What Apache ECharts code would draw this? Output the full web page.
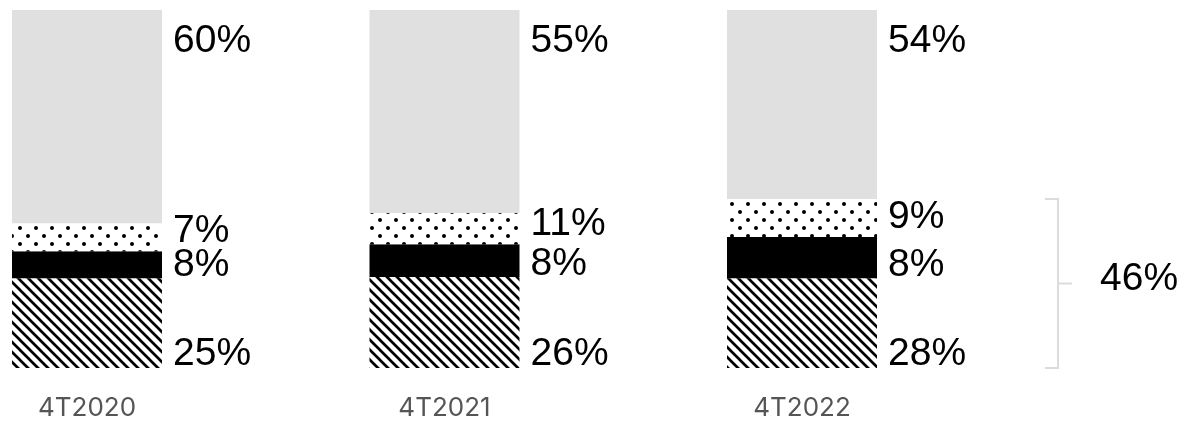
<!DOCTYPE html>
<html>
<head>
<meta charset="utf-8">
<script src="https://cdn.jsdelivr.net/npm/echarts@6/dist/echarts.min.js"></script>
<style>
html,body{margin:0;padding:0;background:#fff;}
#chart{width:1191px;height:421px;}
</style>
</head>
<body>
<div id="chart"></div>
<script>
// Data (segment heights as drawn, percent of bar)
const categories = ['4T2020', '4T2021', '4T2022'];
const hatchValues = [25.1, 25.4, 25.1];
const blackValues = [7.5, 9.2, 11.5];
const dotsValues = [7.8, 8.7, 10.6];
const grayValues = [59.6, 56.7, 52.8];
// Labels shown beside segments
const hatchLabels = ['25%', '26%', '28%'];
const blackLabels = ['8%', '8%', '8%'];
const dotsLabels = ['7%', '11%', '9%'];
const grayLabels = ['60%', '55%', '54%'];
const bracketLabel = '46%';

function makeHatch() {
  const c = document.createElement('canvas');
  c.width = 10; c.height = 10;
  const g = c.getContext('2d');
  g.fillStyle = '#fff'; g.fillRect(0, 0, 10, 10);
  g.strokeStyle = '#000'; g.lineWidth = 2.7;
  g.beginPath();
  g.moveTo(-5, -5); g.lineTo(15, 15);
  g.moveTo(-5, 5); g.lineTo(5, 15);
  g.moveTo(5, -5); g.lineTo(15, 5);
  g.stroke();
  return c;
}
function makeDots() {
  const c = document.createElement('canvas');
  c.width = 16; c.height = 16;
  const g = c.getContext('2d');
  g.fillStyle = '#fff'; g.fillRect(0, 0, 16, 16);
  g.fillStyle = '#000';
  [[4, 4], [12, 12]].forEach(function (p) {
    g.beginPath(); g.arc(p[0], p[1], 2.0, 0, Math.PI * 2); g.fill();
  });
  return c;
}

const FONT = '"Liberation Sans", Arial, sans-serif';
const AXFONT = 'Inter, "Noto Sans", sans-serif';
const labelBase = { show: true, color: '#000', fontSize: 39, fontFamily: FONT, align: 'left', verticalAlign: 'middle' };

function barSeries(name, values, labels, color, labelOpt) {
  return {
    name: name, type: 'bar', stack: 'total', barWidth: 150, clip: false,
    itemStyle: { color: color },
    label: Object.assign({}, labelBase, labelOpt, {
      formatter: function (p) { return labels[p.dataIndex]; }
    }),
    data: values,
    emphasis: { disabled: true }
  };
}

const bracketTotal = hatchValues[2] + blackValues[2] + dotsValues[2];

const chart = echarts.init(document.getElementById('chart'), null, { renderer: 'canvas' });
chart.setOption({
  animation: false,
  grid: { left: 87, right: 389, top: 10, bottom: 53, containLabel: false },
  xAxis: {
    type: 'category', data: categories, boundaryGap: false,
    axisLine: { show: false }, axisTick: { show: false },
    axisLabel: { color: '#555', fontSize: 26, fontFamily: AXFONT, margin: 27 }
  },
  yAxis: { type: 'value', min: 0, max: 100, show: false },
  series: [
    barSeries('hatch', hatchValues, hatchLabels, { image: makeHatch(), repeat: 'repeat' },
      { position: [161, '100%'], offset: [0, -14] }),
    barSeries('black', blackValues, blackLabels, '#000',
      { position: [161, '100%'], offset: [0, -13] }),
    barSeries('dots', dotsValues, dotsLabels, { image: makeDots(), repeat: 'repeat' },
      { position: [161, '100%'], offset: [0, -20] }),
    barSeries('gray', grayValues, grayLabels, '#e0e0e0',
      { position: [161, 0], offset: [0, 31] }),
    {
      type: 'custom', clip: false, silent: true,
      data: [[2, bracketTotal]],
      renderItem: function (params, api) {
        const p0 = api.coord([api.value(0), 0]);
        const p1 = api.coord([api.value(0), api.value(1)]);
        const x = p0[0] + 256;
        const yb = p0[1], yt = p1[1], ym = (yb + yt) / 2;
        const st = { stroke: '#dcdcdc', lineWidth: 2, fill: null };
        return {
          type: 'group',
          children: [
            { type: 'polyline', shape: { points: [[x - 13, yt], [x, yt], [x, yb], [x - 13, yb]] }, style: st },
            { type: 'line', shape: { x1: x, y1: ym, x2: x + 14, y2: ym }, style: st },
            { type: 'text', x: x + 42, y: ym - 4, style: { text: bracketLabel, fill: '#000', fontSize: 39, fontFamily: FONT, align: 'left', verticalAlign: 'middle' } }
          ]
        };
      }
    }
  ]
});
</script>
</body>
</html>
